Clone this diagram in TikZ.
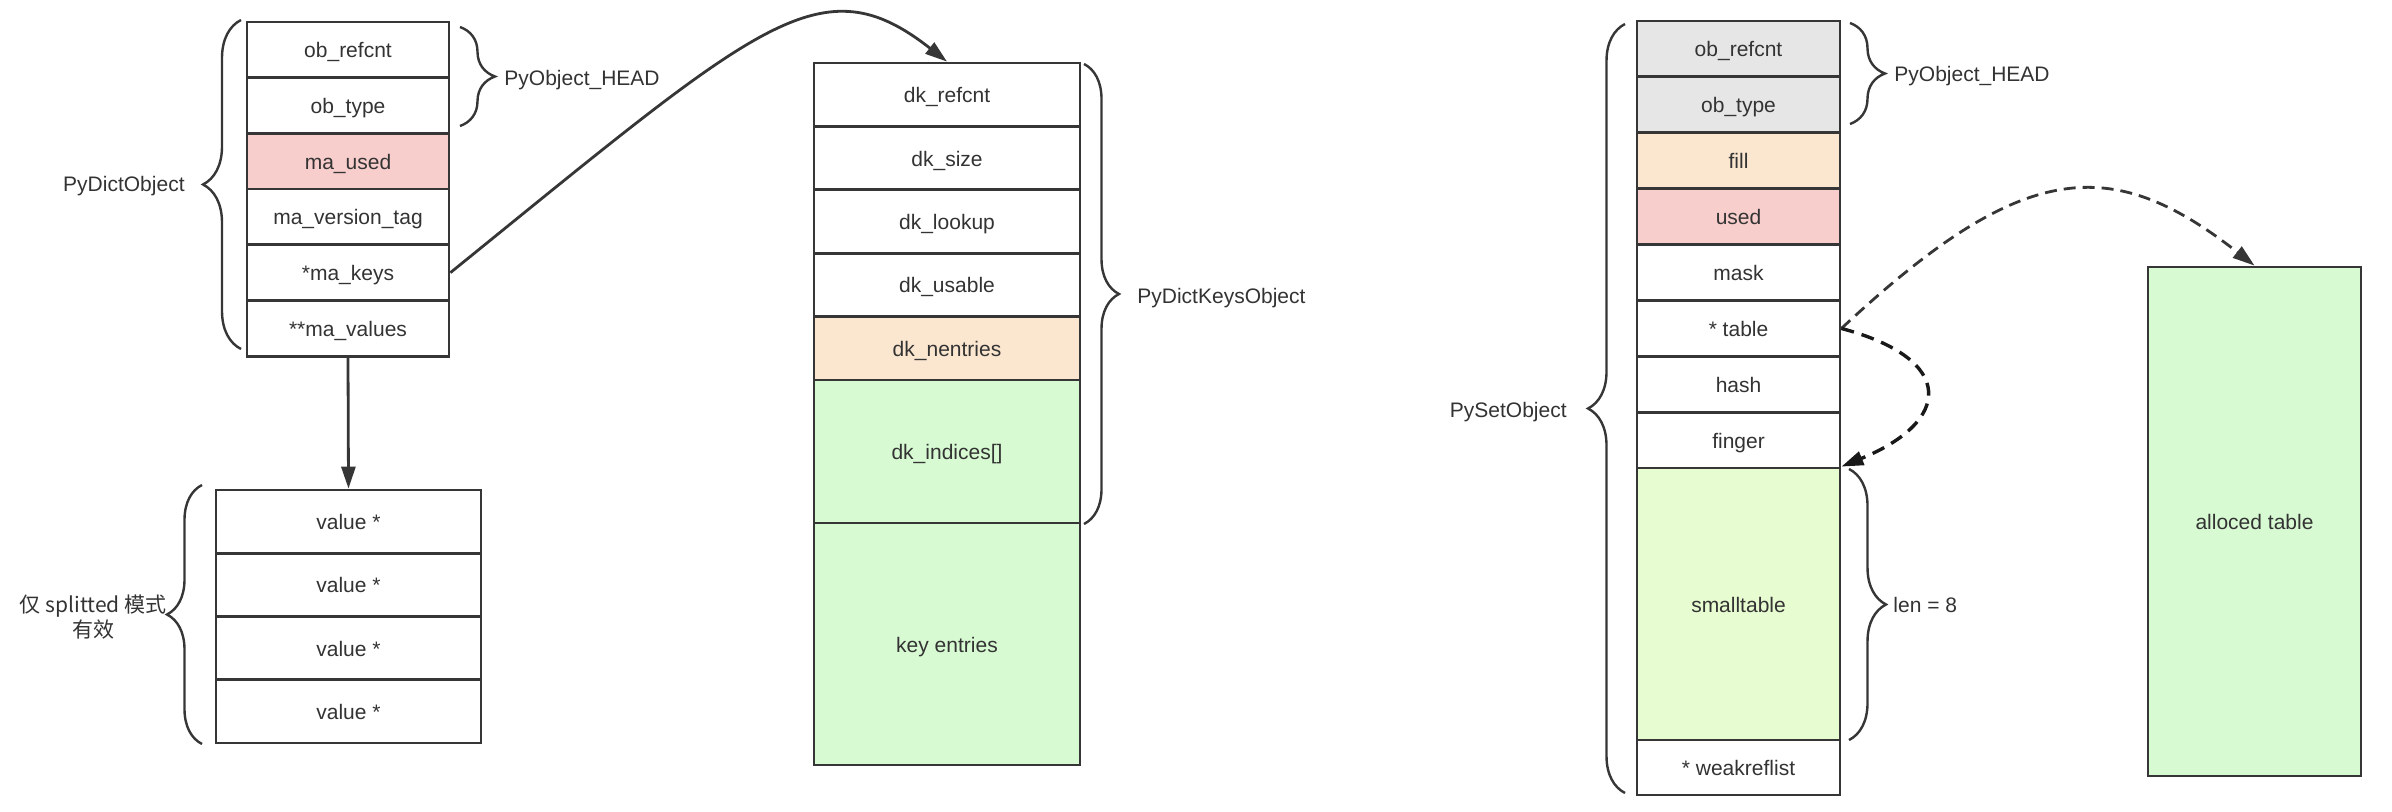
\documentclass[tikz,border=0pt]{standalone}
\usepackage{fontspec}
\setmainfont{Liberation Sans}
\newfontfamily\cjk{Noto Sans CJK SC}
\usepackage{xcolor}
\usetikzlibrary{arrows.meta,decorations.pathreplacing}
\definecolor{linec}{HTML}{363636}
\definecolor{txtc}{HTML}{333333}
\definecolor{pinkc}{HTML}{F8CECC}
\definecolor{peachc}{HTML}{FBE6D0}
\definecolor{greenc}{HTML}{D7FAD2}
\definecolor{limec}{HTML}{E7FCD0}
\definecolor{greyc}{HTML}{E6E6E6}

\begin{document}
\begin{tikzpicture}[x=0.5pt, y=-0.5pt, font=\fontsize{10.5}{12.5}\selectfont, text=txtc,
    cell/.style={draw=linec, line width=1.4pt, inner sep=0pt, text height=8pt, text depth=0pt},
    dictrow/.style={cell, minimum width=101pt, minimum height=27.85pt},
    valrow/.style={cell, minimum width=132.5pt, minimum height=31.6pt},
    keyrow/.style={cell, minimum width=133pt, minimum height=31.7pt},
    setrow/.style={cell, minimum width=101.5pt, minimum height=27.95pt},
    lbl/.style={inner sep=0pt, text height=8pt, text depth=0pt},
    brc/.style={decorate, decoration={brace, amplitude=#1}, draw=linec, line width=1.2pt},
    brc/.default=17.5pt,
    arr/.style={draw=linec, line width=1.4pt, -{Triangle[length=11pt, width=7pt]}}]
  \useasboundingbox (0,0) rectangle (2392,812);

  % PyDictObject
  \foreach \t/\c [count=\i] in {ob\_refcnt/white, ob\_type/white, ma\_used/pinkc,
      ma\_version\_tag/white, *ma\_keys/white, **ma\_values/white}
    \node[dictrow, fill=\c] (d\i) at (348, {22+55.7*(\i-0.5)}) {\t};
  \draw[brc=19pt] (241,349) -- (241,20);
  \node[lbl, anchor=east] (dictlbl) at (185,184) {PyDictObject};
  \draw[brc] (460,27) -- (460,126);
  \node[lbl, anchor=west] (dheadlbl) at (504,78) {PyObject\_HEAD};

  % values
  \foreach \i in {1,...,4}
    \node[valrow, fill=white] (v\i) at (348.5, {490+63.25*(\i-0.5)}) {value *};
  \draw[brc] (202,744) -- (202,485);
  \node[inner sep=0pt, anchor=east, align=center] (vallbl) at (167,617) {\cjk 仅 splitted 模式\\ \cjk 有效};
  \draw[arr] (d6.south) -- (v1.north);

  % PyDictKeysObject
  \foreach \t/\c [count=\i] in {dk\_refcnt/white, dk\_size/white, dk\_lookup/white,
      dk\_usable/white, dk\_nentries/peachc}
    \node[keyrow, fill=\c] (k\i) at (947, {63+63.4*(\i-0.5)}) {\t};
  \node[keyrow, fill=greenc, minimum height=71.5pt] (k6) at (947,451.5) {dk\_indices[]};
  \node[keyrow, fill=greenc, minimum height=121pt] (k7) at (947,644) {key entries};
  \draw[brc] (1084,64) -- (1084,524);
  \node[lbl, anchor=west] (keyslbl) at (1137,296) {PyDictKeysObject};
  \draw[arr] (d5.east) .. controls +(311,-252) and +(-126,-99) .. (k1.north);

  % PySetObject
  \foreach \t/\c [count=\i] in {ob\_refcnt/greyc, ob\_type/greyc, fill/peachc, used/pinkc,
      mask/white, * table/white, hash/white, finger/white}
    \node[setrow, fill=\c] (s\i) at (1738.5, {21+55.9*(\i-0.5)}) {\t};
  \node[setrow, fill=limec, minimum height=136pt] (s9) at (1738.5,604) {smalltable};
  \node[setrow, fill=white, minimum height=27.5pt] (s10) at (1738.5,767.5) {* weakreflist};
  \draw[brc] (1850,23) -- (1850,124);
  \node[lbl, anchor=west] (sheadlbl) at (1894,74) {PyObject\_HEAD};
  \draw[brc=18.5pt] (1625,793) -- (1625,24);
  \node[lbl, anchor=east] (setlbl) at (1567,409) {PySetObject};
  \draw[brc=18.5pt] (1849,469) -- (1849,740);
  \node[lbl, anchor=west] (lenlbl) at (1893,604) {len = 8};

  \node[cell, fill=greenc, minimum width=106.5pt, minimum height=254.5pt] (alloc) at (2254.5,521.5) {alloced table};
  \draw[arr, dash pattern=on 6pt off 3.5pt] (s6.east) .. controls +(182,-170) and +(-143,-112) .. (alloc.north);
  \draw[arr, draw=black!90, line width=1.7pt, dash pattern=on 6.5pt off 4pt] (s6.east) .. controls +(116,31) and +(110,-45) .. (s9.north east);
\end{tikzpicture}
\end{document}
